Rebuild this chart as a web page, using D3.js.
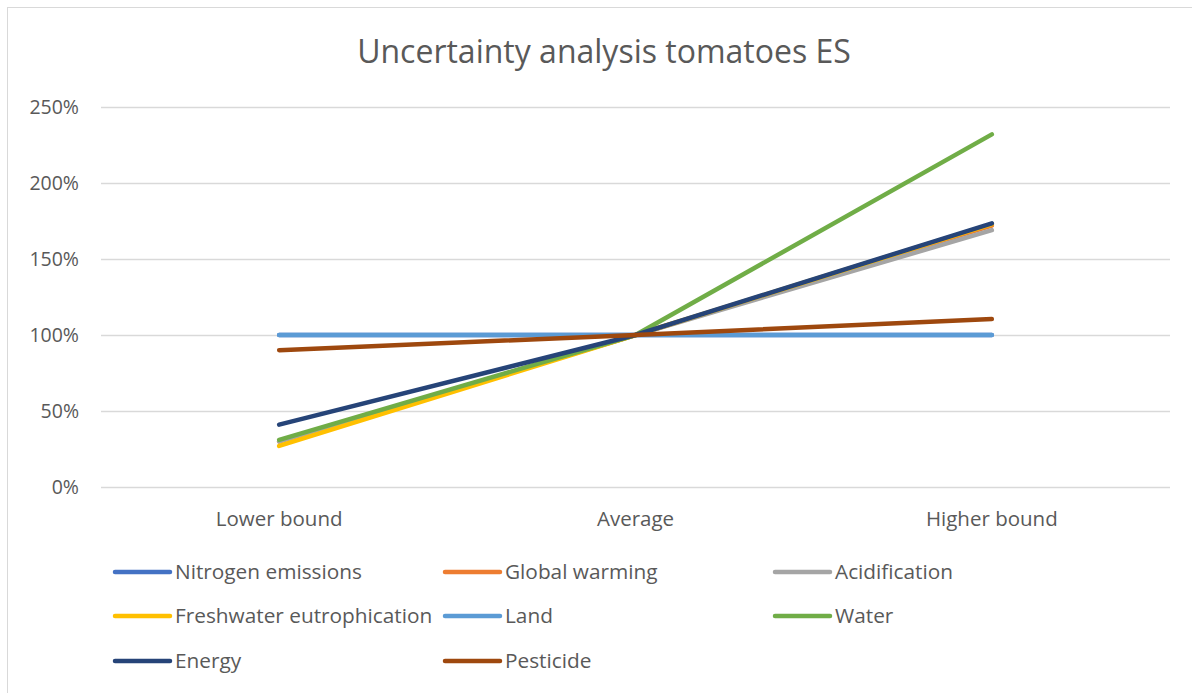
<!DOCTYPE html>
<html><head><meta charset="utf-8">
<script src="https://cdn.jsdelivr.net/npm/d3@7"></script>
<style>body{margin:0;background:#fff}svg{display:block}text{font-family:"Open Sans","Liberation Sans",sans-serif;fill:#595959}</style>
</head><body><svg id="c" width="1192" height="693"></svg>
<script>
const categories = ["Lower bound", "Average", "Higher bound"];
const seriesNames = ["Nitrogen emissions","Global warming","Acidification","Freshwater eutrophication","Land","Water","Energy","Pesticide"];
const nitrogen = [1.00, 1.00, 1.00];
const globalWarming = [0.30, 1.00, 1.72];
const acidification = [0.30, 1.00, 1.69];
const freshwater = [0.27, 1.00, 1.73];
const land = [1.00, 1.00, 1.00];
const water = [0.31, 1.00, 2.32];
const energy = [0.41, 1.00, 1.735];
const pesticide = [0.90, 1.00, 1.105];
const yTicks = [0, 0.5, 1, 1.5, 2, 2.5];
const colors = ["#4472C4","#ED7D31","#A5A5A5","#FFC000","#5B9BD5","#70AD47","#264478","#9E480E"];
const seriesValues = [nitrogen, globalWarming, acidification, freshwater, land, water, energy, pesticide];

const svg = d3.select("#c");
svg.append("rect").attr("x",7.5).attr("y",7.5).attr("width",1200).attr("height",700)
  .attr("fill","none").attr("stroke","#d9d9d9").attr("stroke-width",1);

const x = d3.scaleBand().domain(categories).range([101,1170]);
const y = d3.scaleLinear().domain([0,2.5]).range([487,107]);

svg.append("g").selectAll("line").data(yTicks).join("line")
  .attr("x1",101).attr("x2",1170).attr("y1",d=>Math.round(y(d))+0.5).attr("y2",d=>Math.round(y(d))+0.5)
  .attr("stroke","#d9d9d9").attr("stroke-width",1.3);

const yAxis = d3.axisLeft(y).tickValues(yTicks).tickFormat(d=>Math.round(d*100)+"%").tickSize(0).tickPadding(0);
const gy = svg.append("g").attr("transform","translate(79,0)").call(yAxis);
gy.select(".domain").remove();
gy.selectAll("text").style("font-size","19.5px").attr("fill","#595959").attr("dy","0.35em").style("font-family","'Open Sans',sans-serif");

const xAxis = d3.axisBottom(x).tickSize(0).tickPadding(0);
const gx = svg.append("g").attr("transform","translate(0,519)").call(xAxis);
gx.select(".domain").remove();
gx.selectAll("text").style("font-size","20.5px").attr("fill","#595959").attr("dy","0.35em").attr("y",0).style("font-family","'Open Sans',sans-serif");

const line = d3.line().x((d,i)=>x(categories[i])+x.bandwidth()/2).y(d=>y(d));
svg.append("g").selectAll("path").data(seriesValues).join("path")
  .attr("d",line).attr("fill","none").attr("stroke",(d,i)=>colors[i])
  .attr("stroke-width",4.5).attr("stroke-linecap","round").attr("stroke-linejoin","round");

svg.append("text").attr("x",604).attr("y",63).attr("text-anchor","middle")
  .style("font-size","32px").text("Uncertainty analysis tomatoes ES");

const legCols = [115, 445, 775];
const legRows = [572, 616, 661];
const lg = svg.append("g").selectAll("g").data(seriesNames).join("g")
  .attr("transform",(d,i)=>`translate(${legCols[i%3]},${legRows[Math.floor(i/3)]})`);
lg.append("line").attr("x1",0).attr("x2",55).attr("y1",0).attr("y2",0)
  .attr("stroke",(d,i)=>colors[i]).attr("stroke-width",4.5).attr("stroke-linecap","round");
lg.append("text").attr("x",60).attr("y",0).attr("dy","0.35em").style("font-size","20.8px").text(d=>d);
</script></body></html>
